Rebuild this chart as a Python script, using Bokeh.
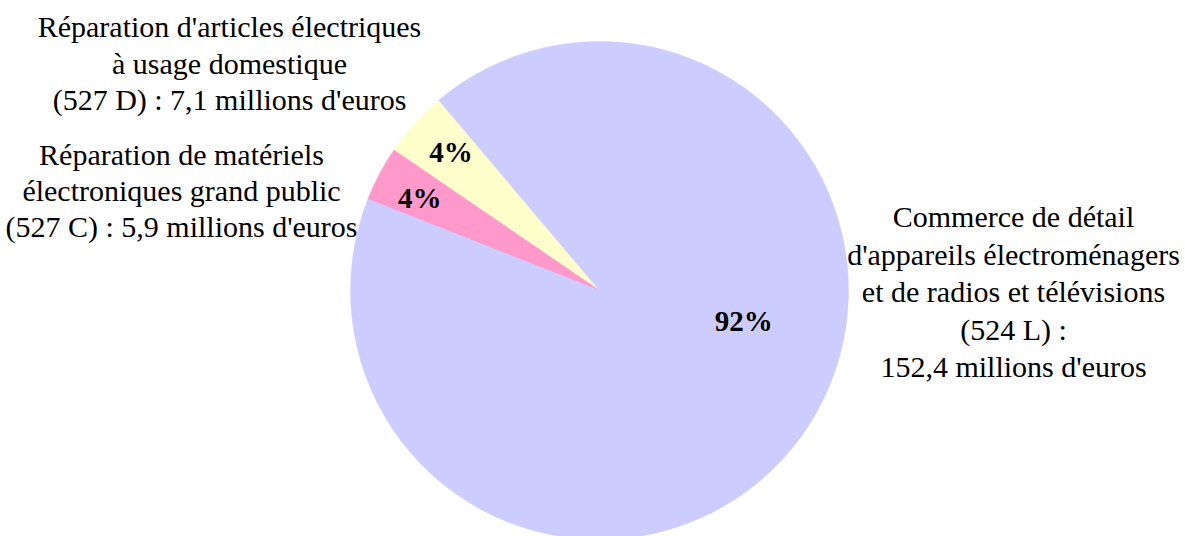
import math
from bokeh.plotting import figure
from bokeh.models import Range1d, ColumnDataSource
from bokeh.core.properties import value
from bokeh.embed import file_html
from bokeh.resources import INLINE

# ---- data ----
categories = [
    "Réparation d'articles électriques à usage domestique (527 D)",
    "Réparation de matériels électroniques grand public (527 C)",
    "Commerce de détail d'appareils électroménagers et de radios et télévisions (524 L)",
]
values_meur = [7.1, 5.9, 152.4]
colors = ["#FFFFCC", "#FF99CC", "#CCCCFF"]
label_lines = [
    ["Réparation d'articles électriques", "à usage domestique", "(527 D) : 7,1 millions d'euros"],
    ["Réparation de matériels", "électroniques grand public", "(527 C) : 5,9 millions d'euros"],
    ["Commerce de détail", "d'appareils électroménagers", "et de radios et télévisions",
     "(524 L) :", "152,4 millions d'euros"],
]

# ---- layout ----
W, H = 1185, 536
def sx(x):
    return x
def sy(y):
    return H - y

cx, cy, R = sx(599), sy(290), 249
start_deg = 130.2
FONT = "Liberation Serif"

# label block positions (screen px): center x, first baseline, line step
label_pos = [(229, 26, 36.5), (181, 154, 36), (1013, 216, 37.5)]
# percentage label polar positions (deg, radius)
pct_pos = [(137.0, 203), (152.9, 202), (-12.0, 147.5)]

p = figure(width=W, height=H, output_backend="svg", toolbar_location=None,
           x_range=Range1d(0, W), y_range=Range1d(0, H), min_border=0)
p.axis.visible = False
p.grid.visible = False
p.outline_line_color = None
p.background_fill_color = "white"

total = sum(values_meur)
starts, ends = [], []
a = math.radians(start_deg)
for v in values_meur:
    starts.append(a)
    a += v / total * 2 * math.pi
    ends.append(a)

src = ColumnDataSource(dict(x=[cx] * 3, y=[cy] * 3, s=starts, e=ends, c=colors))
p.wedge(x="x", y="y", radius=R, start_angle="s", end_angle="e", direction="anticlock",
        fill_color="c", line_color="c", line_width=0.5, source=src)

# percentages
px, py, pt = [], [], []
for v, (ang, r) in zip(values_meur, pct_pos):
    px.append(cx + r * math.cos(math.radians(ang)))
    py.append(cy + r * math.sin(math.radians(ang)))
    pt.append(f"{round(v / total * 100)}%")
p.text(x=px, y=py, text=pt, text_font=value(FONT), text_font_size="29px",
       text_font_style="bold", text_align="center", text_baseline="middle",
       text_color="black")

# category labels
lx, ly, lt = [], [], []
for lines, (x0, y0, step) in zip(label_lines, label_pos):
    for i, t in enumerate(lines):
        lx.append(sx(x0))
        ly.append(sy(y0 + i * step))
        lt.append(t)
p.text(x=lx, y=ly, text=lt, text_font=value(FONT), text_font_size="30px",
       text_align="center", text_baseline="alphabetic", text_color="black")

open("out.html", "w").write(file_html(p, INLINE))
